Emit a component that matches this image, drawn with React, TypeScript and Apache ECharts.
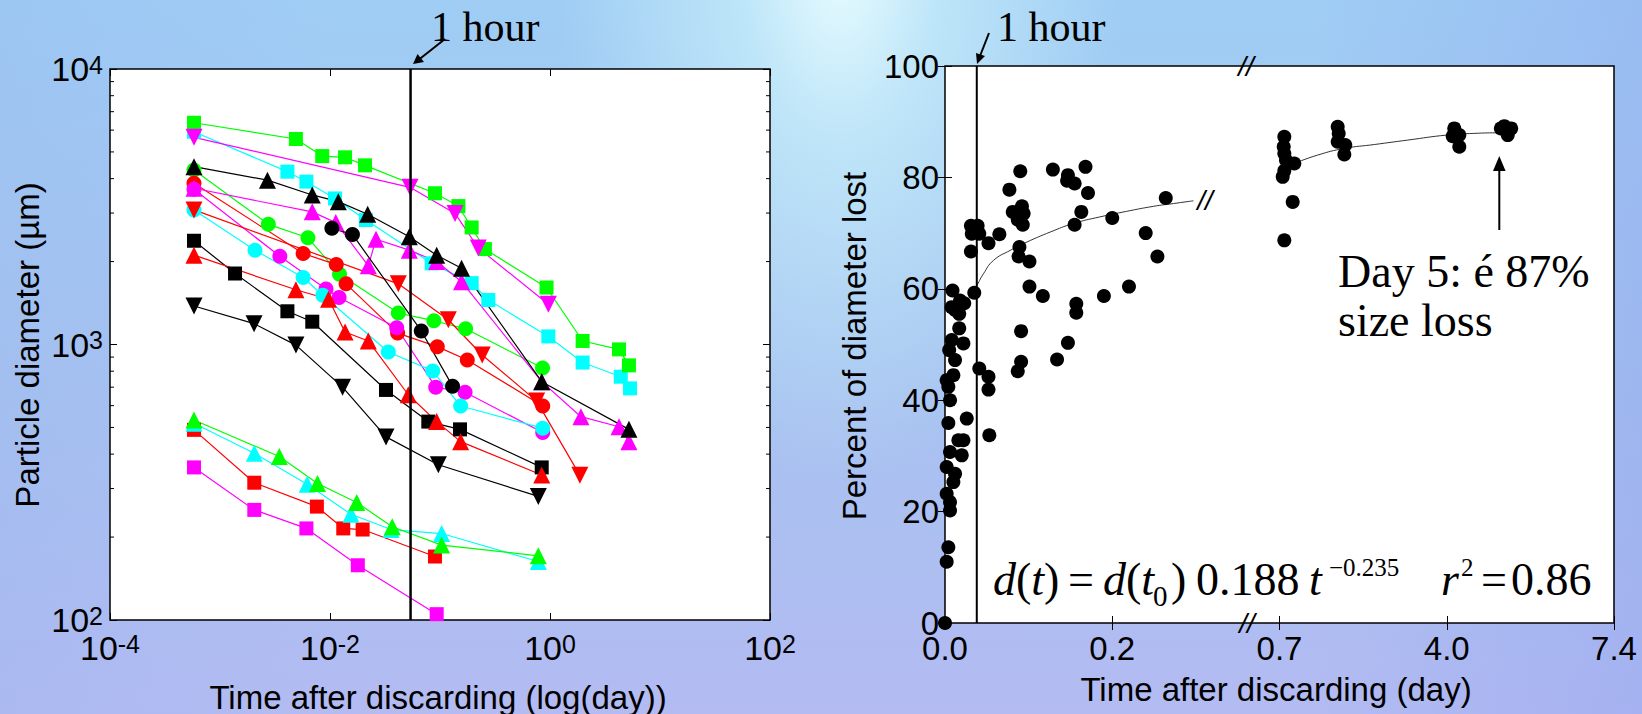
import React, { useEffect, useRef } from "react";
import * as echarts from "echarts";

const SANS = '"Liberation Sans", Arial, sans-serif';
const SERIF = '"Liberation Serif", "Times New Roman", serif';

// ---------- Left panel: [time after discarding (day), particle diameter (µm)] ----------
const cyanSquaresHigh = [[0.00058, 5920], [0.0041, 4240], [0.0061, 3900], [0.0111, 3390], [0.0212, 2830], [0.084, 1970], [0.194, 1670], [0.275, 1450], [0.966, 1070], [1.98, 860], [4.4, 764], [5.34, 693]];
const greenSquaresHigh = [[0.00058, 6380], [0.0049, 5570], [0.0085, 4830], [0.0137, 4780], [0.0208, 4470], [0.09, 3540], [0.147, 3180], [0.194, 2660], [0.256, 2220], [0.93, 1610], [1.98, 1030], [4.24, 960], [5.22, 840]];
const magentaDownHigh = [[0.00058, 5650], [0.0534, 3720], [0.137, 2990], [0.223, 2240], [0.966, 1400]];
const greenCircles = [[0.00058, 4300], [0.00275, 2730], [0.0063, 2440], [0.0122, 1800], [0.0418, 1300], [0.088, 1220], [0.171, 1140], [0.855, 822]];
const magentaUp = [[0.00058, 3690], [0.0069, 3030], [0.0113, 2770], [0.0223, 1930], [0.0262, 2410], [0.0526, 2200], [0.0933, 2000], [0.157, 1690], [0.841, 733], [1.91, 547], [4.24, 503], [5.22, 444]];
const blackUp = [[0.00058, 4420], [0.0027, 3950], [0.0069, 3490], [0.0119, 3300], [0.022, 2970], [0.0526, 2460], [0.0933, 2110], [0.157, 1890], [0.841, 733], [5.22, 492]];
const redCircles = [[0.00058, 3850], [0.0057, 2140], [0.0114, 1950], [0.014, 1660], [0.0412, 1100], [0.0945, 982], [0.177, 879], [0.859, 598]];
const magentaCircles = [[0.00058, 3660], [0.0035, 2090], [0.0092, 1590], [0.0121, 1480], [0.0404, 1150], [0.0914, 700], [0.169, 671], [0.859, 479]];
const cyanCircles = [[0.00058, 3080], [0.00208, 2200], [0.0057, 1750], [0.0086, 1510], [0.0339, 939], [0.0859, 802], [0.154, 598], [0.859, 497]];
const redDown = [[0.00058, 3080], [0.0418, 1660], [0.119, 1230], [0.242, 916], [0.757, 623], [1.87, 335]];
const blackCircles = [[0.0104, 2640], [0.016, 2510], [0.0676, 1120], [0.13, 706]];
const blackSquares = [[0.00058, 2380], [0.00137, 1810], [0.0041, 1320], [0.0069, 1210], [0.0323, 684], [0.0783, 525], [0.152, 492], [0.841, 358]];
const redUp = [[0.00058, 2110], [0.0049, 1580], [0.0097, 1460], [0.0137, 1110], [0.0223, 1030], [0.0515, 657], [0.0933, 525], [0.154, 444], [0.841, 336]];
const blackDown = [[0.00058, 1380], [0.00204, 1190], [0.0049, 995], [0.013, 700], [0.0323, 462], [0.0966, 366], [0.783, 281]];
const greenUpLow = [[0.00058, 532], [0.00346, 392], [0.0077, 313], [0.0175, 267], [0.0368, 218], [0.1035, 187], [0.783, 171]];
const cyanUpLow = [[0.00058, 518], [0.00205, 403], [0.0062, 311], [0.0155, 242], [0.0359, 213], [0.1035, 206], [0.783, 163]];
const redSquaresLow = [[0.00058, 490], [0.00205, 315], [0.0076, 258], [0.0132, 215], [0.0198, 213], [0.09, 170]];
const magentaSquaresLow = [[0.00058, 358], [0.00205, 251], [0.0061, 215], [0.0179, 158], [0.0933, 105]];

const leftMinorTicks = [200, 300, 400, 500, 600, 700, 800, 900, 2000, 3000, 4000, 5000, 6000, 7000, 8000, 9000];
const oneHourLeftDay = 0.054;

// ---------- Right panel: [time (day), percent of diameter lost] ----------
const lossPoints = [
  [0.09, 81.1], [0.129, 81.4], [0.168, 81.9], [0.147, 80.4], [0.146, 79.4], [0.155, 78.9], [0.171, 77.2], [0.077, 77.8],
  [0.092, 74.8], [0.081, 73.8], [0.094, 73.5], [0.087, 72.4], [0.093, 71.5], [0.163, 73.8], [0.264, 76.3], [0.2, 72.7],
  [0.155, 71.5], [0.24, 70.0], [0.254, 65.8], [0.031, 71.3], [0.039, 71.3], [0.032, 69.9], [0.041, 69.9], [0.065, 69.8],
  [0.052, 68.2], [0.031, 66.7], [0.089, 67.5], [0.088, 65.8], [0.101, 64.9], [0.035, 59.3], [0.101, 60.4], [0.117, 58.7],
  [0.157, 57.3], [0.157, 55.7], [0.19, 58.7], [0.22, 60.4], [0.091, 52.4], [0.147, 50.3], [0.134, 47.3], [0.091, 46.9],
  [0.087, 45.2], [0.041, 45.7], [0.052, 44.2], [0.052, 41.9], [0.053, 33.7], [0.026, 36.7],
  [0.009, 59.7], [0.018, 57.9], [0.008, 56.7], [0.017, 55.5], [0.012, 56.2], [0.023, 57.4], [0.017, 52.9], [0.008, 50.8],
  [0.022, 50.2], [0.005, 49.0], [0.012, 47.2], [0.01, 44.5], [0.002, 43.6], [0.004, 42.4], [0.006, 40.0], [0.004, 35.9],
  [0.016, 32.8], [0.022, 32.8], [0.006, 30.7], [0.02, 30.1], [0.002, 28.0], [0.012, 26.8], [0.01, 25.3], [0.002, 23.2],
  [0.006, 21.7], [0.006, 20.2], [0.004, 13.6], [0.002, 11.0], [0, 0],
  [0.795, 87.3], [0.783, 85.5], [0.795, 84.3], [0.828, 83.1], [0.992, 82.5], [0.795, 81.2], [0.763, 80.1], [0.96, 75.6], [0.795, 68.7],
  [1.848, 89.1], [1.868, 87.9], [1.848, 86.4], [1.998, 85.8], [1.979, 84.1],
  [4.153, 88.8], [4.255, 87.6], [4.121, 87.4], [4.255, 85.5],
  [5.17, 89.2], [5.31, 88.8], [5.24, 87.6], [5.1, 88.8],
];
const fitEarly = [[0.028, 58.2], [0.037, 60.3], [0.046, 62.7], [0.058, 65.1], [0.078, 66.9], [0.098, 68.4], [0.126, 70.2], [0.153, 71.7], [0.185, 72.9], [0.217, 73.9], [0.249, 74.8], [0.273, 75.3], [0.297, 75.8]];
const fitLate = [[0.99, 82.5], [1.45, 84.0], [1.98, 85.2], [2.57, 85.9], [3.23, 86.7], [4.0, 87.6], [4.55, 87.9], [5.09, 88.0], [5.29, 88.0]];
const rightXTickLabels = ["0.0", "0.2", "0.7", "4.0", "7.4"];
const oneHourRightDay = 0.038;

// broken axis: 0–0.2 | 0.2–(break) | 0.7–4.0 | 4.0–7.4, each tick interval one axis unit
function dayToAxis(d: number): number {
  if (d <= 0.45) return d / 0.2;
  if (d <= 4.0) return 2 + (d - 0.7) / 3.3;
  return 3 + (d - 4.0) / 3.4;
}

const GREEN = "#00ff00", MAGENTA = "#ff00ff", CYAN = "#00ffff", RED = "#ff0000", BLACK = "#000000";

const leftSpecs: any[] = [
  { data: cyanSquaresHigh, color: CYAN, symbol: "rect" },
  { data: greenSquaresHigh, color: GREEN, symbol: "rect" },
  { data: magentaDownHigh, color: MAGENTA, symbol: "triangle", rot: 180 },
  { data: greenCircles, color: GREEN, symbol: "circle" },
  { data: redCircles, color: RED, symbol: "circle" },
  { data: magentaUp, color: MAGENTA, symbol: "triangle" },
  { data: blackUp, color: BLACK, symbol: "triangle" },
  { data: magentaCircles, color: MAGENTA, symbol: "circle" },
  { data: cyanCircles, color: CYAN, symbol: "circle" },
  { data: redDown, color: RED, symbol: "triangle", rot: 180 },
  { data: blackCircles, color: BLACK, symbol: "circle" },
  { data: blackSquares, color: BLACK, symbol: "rect" },
  { data: redUp, color: RED, symbol: "triangle" },
  { data: blackDown, color: BLACK, symbol: "triangle", rot: 180 },
  { data: redSquaresLow, color: RED, symbol: "rect" },
  { data: cyanUpLow, color: CYAN, symbol: "triangle" },
  { data: greenUpLow, color: GREEN, symbol: "triangle" },
  { data: magentaSquaresLow, color: MAGENTA, symbol: "rect" },
];

const powRich = {
  b: { fontSize: 34, fontFamily: SANS, color: "#000", lineHeight: 34, padding: [9, 0, 9, 0] },
  s: { fontSize: 25, fontFamily: SANS, color: "#000", lineHeight: 25, verticalAlign: "top" },
};
const powLabel = (v: number) => `{b|10}{s|${Math.round(Math.log10(v))}}`;

function txt(x: number, yBase: number, text: string, size: number, family: string, extra: any = {}) {
  return {
    type: "text",
    x,
    y: yBase - 0.34 * size,
    silent: true,
    z: 100,
    ...extra,
    style: {
      text,
      fontSize: size,
      fontFamily: family,
      fill: "#000",
      align: "left",
      verticalAlign: "middle",
      ...(extra.style || {}),
    },
  };
}

const italicRich = { i: { fontStyle: "italic", fontFamily: SERIF, fontSize: 46, color: "#000" } };

export default function App() {
  const ref = useRef<HTMLDivElement>(null);
  useEffect(() => {
    if (!ref.current) return;
    const chart = echarts.init(ref.current, undefined, { renderer: "svg" });
    const tick = { inside: true, length: 7, lineStyle: { color: "#000", width: 1 } };
    const noLine = { show: false };
    const series: any[] = leftSpecs.map((s) => ({
      type: "line",
      xAxisIndex: 0,
      yAxisIndex: 0,
      data: s.data,
      symbol: s.symbol,
      symbolRotate: s.rot || 0,
      symbolSize: s.symbol === "rect" ? 14 : s.symbol === "circle" ? 15 : 17,
      itemStyle: { color: s.color, opacity: 1 },
      lineStyle: { color: s.color, width: 1.2 },
      clip: false,
      z: 3,
    }));
    series.push({
      type: "custom",
      xAxisIndex: 0,
      yAxisIndex: 0,
      silent: true,
      data: leftMinorTicks.map((v) => [1, v]),
      renderItem: (params: any, api: any) => {
        const y = api.coord([1, api.value(1)])[1];
        const cs = params.coordSys;
        return {
          type: "group",
          children: [
            { type: "line", shape: { x1: cs.x, y1: y, x2: cs.x + 4, y2: y }, style: { stroke: "#000", lineWidth: 1 } },
            { type: "line", shape: { x1: cs.x + cs.width - 4, y1: y, x2: cs.x + cs.width, y2: y }, style: { stroke: "#000", lineWidth: 1 } },
          ],
        };
      },
      z: 2,
    });
    series.push({
      type: "line",
      xAxisIndex: 0,
      yAxisIndex: 0,
      data: [[oneHourLeftDay, 100], [oneHourLeftDay, 10000]],
      symbol: "none",
      lineStyle: { color: "#000", width: 2.5 },
      z: 10,
    });
    series.push({
      type: "scatter",
      xAxisIndex: 2,
      yAxisIndex: 2,
      data: lossPoints.map(([d, p]) => [dayToAxis(d), p]),
      symbol: "circle",
      symbolSize: 14,
      itemStyle: { color: "#000", opacity: 1 },
      clip: false,
      z: 4,
    });
    [fitEarly, fitLate].forEach((f) =>
      series.push({
        type: "line",
        xAxisIndex: 2,
        yAxisIndex: 2,
        data: f.map(([d, p]) => [dayToAxis(d), p]),
        symbol: "none",
        smooth: true,
        lineStyle: { color: "#333", width: 1 },
        z: 3,
      })
    );
    series.push({
      type: "line",
      xAxisIndex: 2,
      yAxisIndex: 2,
      data: [[dayToAxis(oneHourRightDay), 0], [dayToAxis(oneHourRightDay), 100]],
      symbol: "none",
      lineStyle: { color: "#000", width: 2 },
      z: 10,
    });

    const nameStyle = { fontSize: 33, fontFamily: SANS, fill: "#000", align: "center", verticalAlign: "middle" };
    const breakStyle = { text: "//", fontSize: 28, fontFamily: SANS, fontStyle: "italic", fill: "#000", align: "center", verticalAlign: "middle" };
    const graphic: any[] = [
      // axis names
      { type: "text", x: 438, y: 697, silent: true, style: { text: "Time after discarding (log(day))", ...nameStyle } },
      { type: "text", x: 27, y: 345, rotation: Math.PI / 2, silent: true, style: { text: "Particle diameter (µm)", ...nameStyle } },
      { type: "text", x: 1276, y: 689, silent: true, style: { text: "Time after discarding (day)", ...nameStyle } },
      { type: "text", x: 854, y: 346, rotation: Math.PI / 2, silent: true, style: { text: "Percent of diameter lost", ...nameStyle } },
      // 1 hour labels and arrows
      txt(431, 41, "1 hour", 42, SERIF),
      { type: "line", silent: true, z: 100, shape: { x1: 445, y1: 39, x2: 419, y2: 59.5 }, style: { stroke: "#000", lineWidth: 2 } },
      { type: "polygon", silent: true, z: 100, shape: { points: [[413, 64], [424, 62], [417.5, 54]] }, style: { fill: "#000" } },
      txt(997, 41, "1 hour", 42, SERIF),
      { type: "line", silent: true, z: 100, shape: { x1: 989, y1: 33, x2: 980, y2: 56 }, style: { stroke: "#000", lineWidth: 2 } },
      { type: "polygon", silent: true, z: 100, shape: { points: [[977, 64], [985, 56], [976, 53]] }, style: { fill: "#000" } },
      // Day 5 annotation
      txt(1338, 287, "Day 5: é 87%", 46, SERIF),
      txt(1338, 336, "size loss", 46, SERIF),
      { type: "line", silent: true, z: 100, shape: { x1: 1499.3, y1: 230, x2: 1499.3, y2: 168 }, style: { stroke: "#000", lineWidth: 2 } },
      { type: "polygon", silent: true, z: 100, shape: { points: [[1499.3, 156], [1493, 171], [1505.6, 171]] }, style: { fill: "#000" } },
      // equation
      txt(993, 595, "{i|d}({i|t})", 46, SERIF, { style: { rich: italicRich } }),
      txt(1068, 595, "=", 46, SERIF),
      txt(1103, 595, "{i|d}({i|t}", 46, SERIF, { style: { rich: italicRich } }),
      txt(1153, 606, "0", 29, SERIF),
      txt(1171, 595, ")", 46, SERIF),
      txt(1196, 595, "0.188", 46, SERIF),
      txt(1309, 595, "{i|t}", 46, SERIF, { style: { rich: italicRich } }),
      txt(1329, 576, "\u22120.235", 25, SERIF),
      txt(1441, 595, "{i|r}", 46, SERIF, { style: { rich: italicRich } }),
      txt(1461, 576, "2", 25, SERIF),
      txt(1481, 595, "=", 46, SERIF),
      txt(1511, 595, "0.86", 46, SERIF),
      // axis break marks
      { type: "text", x: 1246, y: 66, silent: true, z: 100, style: { ...breakStyle } },
      { type: "text", x: 1247, y: 623, silent: true, z: 100, style: { ...breakStyle } },
      { type: "text", x: 1205, y: 200, silent: true, z: 100, style: { ...breakStyle } },
    ];

    const gridStyle = { show: true, backgroundColor: "#ffffff", borderColor: "#000", borderWidth: 1.5, containLabel: false, outerBoundsMode: "none" };
    const logLabel = (margin: number) => ({ margin, fontSize: 34, fontFamily: SANS, color: "#000", formatter: powLabel, rich: powRich });
    chart.setOption({
      animation: false,
      backgroundColor: "transparent",
      grid: [
        { left: 110, top: 69, width: 660, height: 551, ...gridStyle },
        { left: 945, top: 66, width: 669, height: 557, ...gridStyle },
      ],
      xAxis: [
        { gridIndex: 0, type: "log", logBase: 10, min: 1e-4, max: 100, interval: 2, position: "bottom", axisLine: noLine, axisTick: tick, splitLine: { show: false }, axisLabel: logLabel(11) },
        { gridIndex: 0, type: "log", logBase: 10, min: 1e-4, max: 100, interval: 2, position: "top", axisLine: noLine, axisTick: tick, splitLine: { show: false }, axisLabel: { show: false } },
        { gridIndex: 1, type: "value", min: 0, max: 4, interval: 1, position: "bottom", axisLine: noLine, axisTick: tick, splitLine: { show: false }, axisLabel: { margin: 9, fontSize: 33, lineHeight: 33, fontFamily: SANS, color: "#000", formatter: (v: number) => rightXTickLabels[Math.round(v)] } },
        { gridIndex: 1, type: "value", min: 0, max: 4, interval: 1, position: "top", axisLine: noLine, axisTick: tick, splitLine: { show: false }, axisLabel: { show: false } },
      ],
      yAxis: [
        { gridIndex: 0, type: "log", logBase: 10, min: 100, max: 10000, interval: 1, position: "left", axisLine: noLine, axisTick: tick, splitLine: { show: false }, axisLabel: logLabel(7) },
        { gridIndex: 0, type: "log", logBase: 10, min: 100, max: 10000, interval: 1, position: "right", axisLine: noLine, axisTick: tick, splitLine: { show: false }, axisLabel: { show: false } },
        { gridIndex: 1, type: "value", min: 0, max: 100, interval: 20, position: "left", axisLine: noLine, axisTick: tick, splitLine: { show: false }, axisLabel: { margin: 6, fontSize: 33, fontFamily: SANS, color: "#000" } },
        { gridIndex: 1, type: "value", min: 0, max: 100, interval: 20, position: "right", axisLine: noLine, axisTick: tick, splitLine: { show: false }, axisLabel: { show: false } },
      ],
      series,
      graphic,
    });
    return () => chart.dispose();
  }, []);

  return (
    <div
      style={{
        position: "fixed",
        left: 0,
        top: 0,
        width: 1642,
        height: 714,
        background:
          "radial-gradient(ellipse 280px 520px at 840px -40px, rgba(232,252,255,1) 0%, rgba(200,238,250,0.75) 35%, rgba(170,220,248,0) 100%), linear-gradient(90deg, rgba(150,180,240,0.25) 0%, rgba(150,180,240,0) 20%, rgba(150,180,240,0) 80%, rgba(140,160,238,0.35) 100%), linear-gradient(180deg, #9fcdf4 0%, #a7c2f0 55%, #b3bbf2 100%)",
      }}
    >
      <div ref={ref} style={{ width: 1642, height: 714 }} />
    </div>
  );
}
